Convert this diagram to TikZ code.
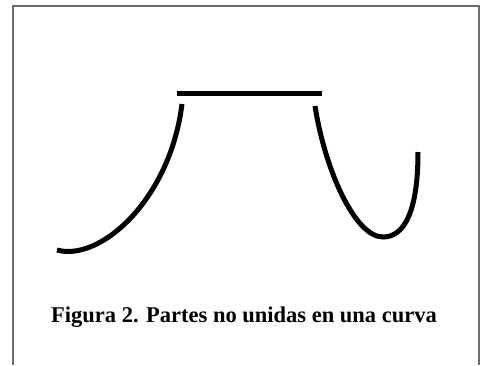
\documentclass[tikz,border=0pt]{standalone}
\usepackage{fontspec}
\setmainfont{Liberation Serif}
\usepackage{tikz}
\definecolor{framegray}{HTML}{6E6E6E}
\tikzset{
  partline/.style={line width=5pt, draw=black},
  framebox/.style={line width=1.4pt, draw=framegray},
  captiontext/.style={font=\fontsize{22.5}{26}\selectfont\bfseries, inner sep=0pt},
}
\begin{document}
\begin{tikzpicture}[x=1pt, y=-1pt]
  \useasboundingbox (0,0) rectangle (482,365);
  % open frame, runs off the bottom
  \draw[framebox] (13,365) -- (13,6) -- (479,6) -- (479,365);
  % the three separate parts of the curve
  \draw[partline] (177,93.5) -- (322,93.5);
  \draw[partline] (57,250) .. controls (100,262) and (170,200) .. (182,104);
  \draw[partline] (315,106) .. controls (325,170) and (355,237) .. (383,237)
                            .. controls (405,237) and (418,210) .. (418,152);
  % caption
  \node[captiontext, anchor=base] (caption) at (244,322)
    {Figura 2. Partes no unidas en una curva};
\end{tikzpicture}
\end{document}
